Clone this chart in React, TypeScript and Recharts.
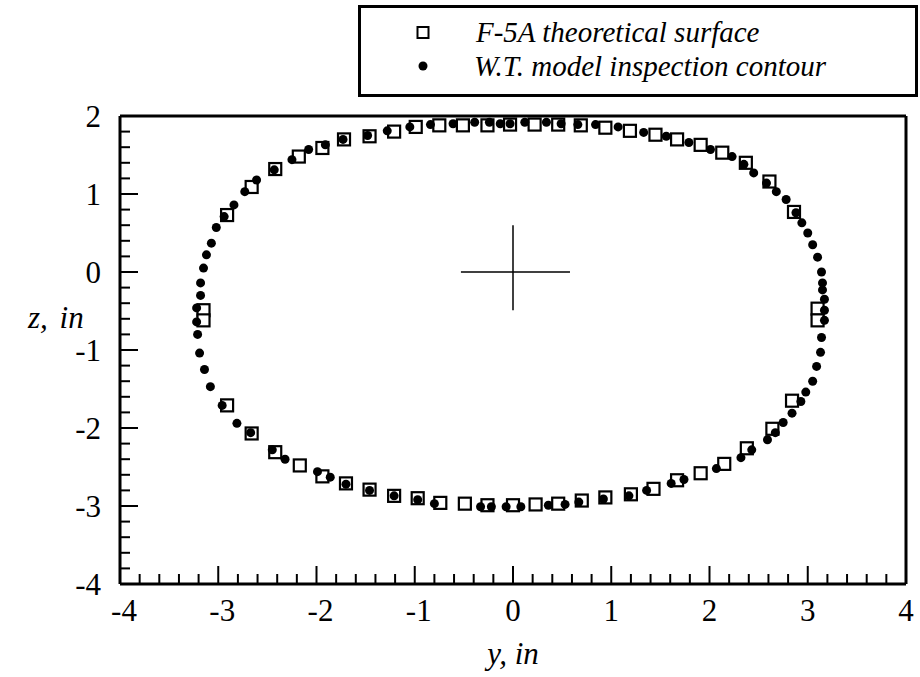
import {
  ScatterChart,
  Scatter,
  XAxis,
  YAxis,
  ReferenceLine,
  Legend,
} from 'recharts';

// axis labels (y, in / z, in)
const yLabels = [-4, -3, -2, -1, 0, 1, 2, 3, 4];
const zLabels = [-4, -3, -2, -1, 0, 1, 2];

// F-5A theoretical surface stations [y, z]
const theoretical: [number, number][] = [
  [-2.91, 0.73], [-2.66, 1.09], [-2.42, 1.32], [-2.18, 1.48], [-1.94, 1.59],
  [-1.72, 1.7], [-1.46, 1.74], [-1.21, 1.8], [-0.99, 1.86], [-0.75, 1.88],
  [-0.51, 1.88], [-0.26, 1.88], [-0.03, 1.89], [0.22, 1.89], [0.46, 1.89],
  [0.69, 1.88], [0.94, 1.85], [1.19, 1.81], [1.45, 1.76], [1.67, 1.7],
  [1.91, 1.63], [2.13, 1.53], [2.37, 1.4], [2.61, 1.16], [2.86, 0.77],
  [3.1, -0.47], [3.1, -0.62],
  [2.84, -1.65], [2.64, -2.01], [2.38, -2.26], [2.15, -2.46], [1.91, -2.58],
  [1.67, -2.67], [1.43, -2.78], [1.2, -2.85], [0.94, -2.89], [0.7, -2.93],
  [0.46, -2.97], [0.23, -2.98], [0.0, -2.99], [-0.26, -2.99], [-0.49, -2.97],
  [-0.74, -2.96], [-0.97, -2.9], [-1.21, -2.87], [-1.46, -2.79], [-1.7, -2.71],
  [-1.94, -2.62], [-2.17, -2.48], [-2.42, -2.31], [-2.66, -2.07], [-2.91, -1.71],
  [-3.15, -0.49], [-3.15, -0.62],
];

// W.T. model inspection contour [y, z]
const inspection: [number, number][] = [
  [-2.84, 0.86], [-2.73, 1.03], [-2.61, 1.18], [-2.43, 1.31], [-2.25, 1.44],
  [-2.08, 1.57], [-1.91, 1.63], [-1.73, 1.7], [-1.48, 1.75], [-1.28, 1.81],
  [-1.05, 1.86], [-0.84, 1.89], [-0.61, 1.9], [-0.39, 1.92], [-0.24, 1.92],
  [-0.13, 1.9], [-0.03, 1.9], [0.12, 1.92], [0.34, 1.92], [0.49, 1.9],
  [0.66, 1.89], [0.84, 1.89], [1.07, 1.86], [1.33, 1.79], [1.56, 1.74],
  [1.79, 1.66], [2.01, 1.57], [2.23, 1.48], [2.35, 1.38], [2.45, 1.27],
  [2.58, 1.14], [2.68, 1.03], [2.78, 0.93], [2.88, 0.76],
  [2.94, 0.63], [3.0, 0.5], [3.05, 0.35], [3.1, 0.19], [3.14, 0.0],
  [3.15, -0.14], [3.15, -0.23], [3.17, -0.35], [3.17, -0.49], [3.17, -0.62],
  [3.14, -0.84], [3.13, -1.03], [3.09, -1.21], [3.05, -1.4], [2.98, -1.54],
  [2.93, -1.66], [2.84, -1.81], [2.75, -1.93], [2.67, -2.06], [2.59, -2.15],
  [2.43, -2.28], [2.32, -2.38], [2.07, -2.52], [1.74, -2.66], [1.61, -2.71],
  [1.36, -2.8], [1.18, -2.87], [0.92, -2.91], [0.67, -2.95], [0.53, -2.98],
  [0.36, -2.99], [0.08, -3.01],
  [-0.07, -3.01], [-0.22, -3.01], [-0.33, -3.01], [-0.8, -2.97], [-0.97, -2.92],
  [-1.21, -2.87], [-1.46, -2.8], [-1.7, -2.72], [-1.86, -2.63], [-1.99, -2.56],
  [-2.32, -2.4], [-2.45, -2.28], [-2.67, -2.06], [-2.81, -1.94], [-2.96, -1.71],
  [-3.08, -1.47], [-3.14, -1.25], [-3.19, -1.04], [-3.21, -0.8], [-3.22, -0.64],
  [-3.22, -0.46], [-3.18, -0.3], [-3.18, -0.14], [-3.15, 0.05], [-3.12, 0.22],
  [-3.07, 0.37], [-3.02, 0.57], [-2.94, 0.71],
];

const FONT = '"Liberation Serif", "Times New Roman", serif';
const AXIS_FONT = 31;

const toPoints = (rows: [number, number][]) => rows.map(([y, z]) => ({ y, z }));

// major ticks every 1, minor every 0.2
const withMinor = (labels: number[]) => {
  const out: number[] = [];
  for (let i = 0; i < labels.length - 1; i++) {
    for (let k = 0; k < 5; k++) out.push(Math.round((labels[i] + k * 0.2) * 10) / 10);
  }
  out.push(labels[labels.length - 1]);
  return out;
};

const isMajor = (v: number) => Math.abs(v - Math.round(v)) < 1e-6;

const BottomTick = (props: any) => {
  const { x, y, payload } = props;
  const v = payload.value;
  const major = isMajor(v);
  const edge = v <= -4 || v >= 4;
  return (
    <g>
      {!edge && (
        <line x1={x} x2={x} y1={y} y2={y - (major ? 18 : 10)} stroke="#000" strokeWidth={2} />
      )}
      {major && (
        <text
          x={x + (v < 0 ? 4 : 0)}
          y={y + 37}
          textAnchor="middle"
          fontFamily={FONT}
          fontSize={AXIS_FONT}
          fill="#000"
        >
          {String(Math.round(v))}
        </text>
      )}
    </g>
  );
};

const LeftTick = (props: any) => {
  const { x, y, payload } = props;
  const v = payload.value;
  const major = isMajor(v);
  const edge = v <= -4 || v >= 2;
  return (
    <g>
      {!edge && (
        <line x1={x} x2={x + (major ? 18 : 10)} y1={y} y2={y} stroke="#000" strokeWidth={2} />
      )}
      {major && (
        <text x={x - 19} y={y} dy="0.35em" textAnchor="end" fontFamily={FONT} fontSize={AXIS_FONT} fill="#000">
          {String(Math.round(v))}
        </text>
      )}
    </g>
  );
};

const OpenSquare = (props: any) => (
  <rect x={props.cx - 6} y={props.cy - 6} width={12} height={12} fill="#fff" stroke="#000" strokeWidth={2.2} />
);

const Dot = (props: any) => <circle cx={props.cx} cy={props.cy} r={4.5} fill="#000" />;

const LegendBox = () => (
  <svg width={560} height={92}>
    <rect x={1.5} y={1.5} width={557} height={89} fill="#fff" stroke="#000" strokeWidth={3} />
    <rect x={59.5} y={22} width={11} height={11} fill="#fff" stroke="#000" strokeWidth={2} />
    <circle cx={65} cy={61} r={4.5} fill="#000" />
    <text x={118} y={37} fontFamily={FONT} fontStyle="italic" fontSize={29} fill="#000">
      F-5A theoretical surface
    </text>
    <text x={116} y={71} fontFamily={FONT} fontStyle="italic" fontSize={29} fill="#000">
      W.T. model inspection contour
    </text>
  </svg>
);

export default function App() {
  return (
    <div style={{ position: 'absolute', left: 0, top: 0, background: '#fff' }}>
      <ScatterChart width={920} height={677} margin={{ top: 116, right: 14, bottom: 33, left: 20 }}>
        <XAxis
          type="number"
          dataKey="y"
          domain={[-4, 4]}
          allowDataOverflow
          ticks={withMinor(yLabels)}
          interval={0}
          tickSize={0}
          tickMargin={0}
          tickLine={false}
          tick={<BottomTick />}
          height={60}
          axisLine={{ stroke: '#000', strokeWidth: 3 }}
          label={{
            value: 'y, in',
            position: 'bottom',
            offset: -2,
            style: { fontFamily: FONT, fontStyle: 'italic', fontSize: AXIS_FONT, fill: '#000' },
          }}
        />
        <YAxis
          type="number"
          dataKey="z"
          domain={[-4, 2]}
          allowDataOverflow
          ticks={withMinor(zLabels)}
          interval={0}
          tickSize={0}
          tickMargin={0}
          tickLine={false}
          tick={<LeftTick />}
          width={100}
          axisLine={{ stroke: '#000', strokeWidth: 3 }}
          label={{
            value: 'z, in',
            position: 'insideLeft',
            offset: 8,
            dy: -33,
            style: {
              fontFamily: FONT,
              fontStyle: 'italic',
              fontSize: AXIS_FONT,
              fill: '#000',
              textAnchor: 'start',
              wordSpacing: 4,
            },
          }}
        />
        {/* plot frame, top and right */}
        <ReferenceLine y={2} stroke="#000" strokeWidth={3} />
        <ReferenceLine x={4} stroke="#000" strokeWidth={3} />
        {/* origin cross */}
        <ReferenceLine segment={[{ x: -0.53, y: 0 }, { x: 0.58, y: 0 }]} stroke="#000" strokeWidth={1.5} />
        <ReferenceLine segment={[{ x: 0, y: 0.6 }, { x: 0, y: -0.49 }]} stroke="#000" strokeWidth={1.5} />
        <Legend
          layout="vertical"
          align="center"
          verticalAlign="middle"
          content={<LegendBox />}
          wrapperStyle={{ left: 358, top: 5, width: 560, height: 92 }}
        />
        <Scatter
          name="F-5A theoretical surface"
          data={toPoints(theoretical)}
          shape={<OpenSquare />}
          isAnimationActive={false}
        />
        <Scatter
          name="W.T. model inspection contour"
          data={toPoints(inspection)}
          shape={<Dot />}
          isAnimationActive={false}
        />
      </ScatterChart>
    </div>
  );
}
